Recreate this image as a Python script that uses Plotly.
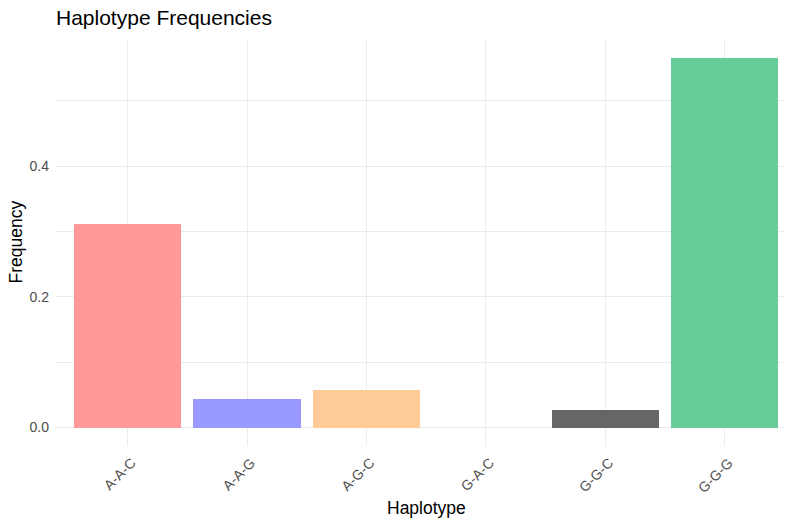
import plotly.graph_objects as go

# Haplotype frequency estimates
haplotypes = ["A-A-C", "A-A-G", "A-G-C", "G-A-C", "G-G-C", "G-G-G"]
frequencies = [0.311, 0.044, 0.058, 0.0, 0.027, 0.566]
bar_colors = ["#FF9999", "#9999FF", "#FFCC99", "#99CCFF", "#666666", "#66CC99"]

y_major = [0.0, 0.2, 0.4]
y_minor = [0.1, 0.3, 0.5]

W, H = 785, 523
left, top, bottom = 56, 39, 77

ymax = max(frequencies)
y_range = [-0.05 * ymax, 1.05 * ymax]

fig = go.Figure(
    go.Bar(
        x=haplotypes,
        y=frequencies,
        width=0.9,
        marker=dict(color=bar_colors, line=dict(width=0)),
        showlegend=False,
        hovertemplate="%{x}: %{y:.3f}<extra></extra>",
    )
)

grid = "#EBEBEB"
tick_font = dict(family="Liberation Sans, Arial, sans-serif", size=14, color="#4D4D4D")
title_font = dict(family="Liberation Sans, Arial, sans-serif", size=17.5, color="#000000")

fig.update_layout(
    width=W,
    height=H,
    margin=dict(l=left, r=0, t=top, b=bottom, pad=0),
    paper_bgcolor="white",
    plot_bgcolor="white",
    bargap=0,
    title=dict(
        text="Haplotype Frequencies",
        font=dict(family="Liberation Sans, Arial, sans-serif", size=21, color="#000000"),
        x=left / W,
        xanchor="left",
        xref="container",
        y=1 - 18 / H,
        yanchor="middle",
        yref="container",
    ),
    xaxis=dict(
        type="category",
        range=[-0.6, 5.505],
        showgrid=True,
        gridcolor=grid,
        gridwidth=1,
        zeroline=False,
        showline=False,
        ticks="",
        tickangle=-45,
        tickfont=tick_font,
        ticklabelstandoff=5,
        ticklabelshift=4,
    ),
    yaxis=dict(
        range=y_range,
        tickvals=y_major,
        ticktext=["0.0", "0.2", "0.4"],
        showgrid=True,
        gridcolor=grid,
        gridwidth=1,
        zeroline=False,
        showline=False,
        ticks="",
        tickfont=tick_font,
        ticklabelstandoff=6,
        minor=dict(tickvals=y_minor, showgrid=True, gridcolor=grid, gridwidth=1),
    ),
    annotations=[
        dict(
            text="Haplotype",
            xref="x",
            x=2.5,
            yref="paper",
            y=0,
            yshift=-62,
            yanchor="middle",
            xanchor="center",
            showarrow=False,
            font=title_font,
        ),
        dict(
            text="Frequency",
            xref="paper",
            x=0,
            xshift=-41,
            yref="paper",
            y=0.5,
            xanchor="center",
            yanchor="middle",
            textangle=-90,
            showarrow=False,
            font=title_font,
        ),
    ],
)

fig.write_html("out.html")
